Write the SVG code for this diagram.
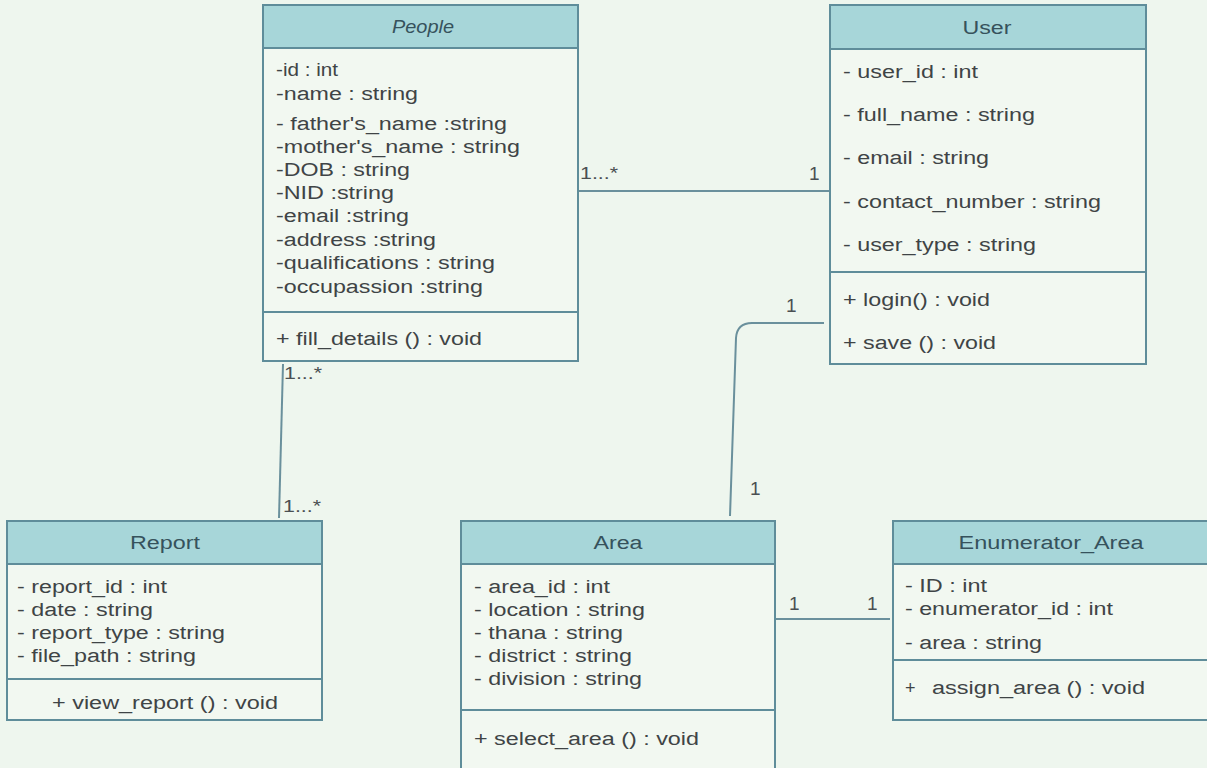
<svg xmlns="http://www.w3.org/2000/svg" width="1207" height="768" viewBox="0 0 1207 768">
<style>
.bg{fill:#eef6ee}
.box{fill:#f2f8f1;stroke:#5f8d9a;stroke-width:2}
.hdr{fill:#a7d6d9;stroke:#5f8d9a;stroke-width:2}
.div{stroke:#5f8d9a;stroke-width:2}
.t{font-family:"Liberation Sans",Arial,sans-serif;font-size:18px;fill:#3f4446}
.h{font-family:"Liberation Sans",Arial,sans-serif;font-size:18px;fill:#36525c;text-anchor:middle}
.m{font-family:"Liberation Sans",Arial,sans-serif;font-size:17px;fill:#4a4f52}
.n{font-family:"Liberation Sans",Arial,sans-serif;font-size:19px;fill:#4a4f52}
.c{fill:none;stroke:#6a909c;stroke-width:2}
</style>
<rect class="bg" x="0" y="0" width="1207" height="768"/>

<g id="connectors">
<path class="c" d="M578 191 L830 191"/>
<path class="c" d="M824 323 L752 323 Q737 323 736 338 L730 516"/>
<path class="c" d="M283 364 L279 518"/>
<path class="c" d="M776 619 L890 619"/>
<text class="m" x="580" y="179" textLength="38" lengthAdjust="spacingAndGlyphs">1...*</text>
<text class="n" x="809" y="180">1</text>
<text class="n" x="786" y="312">1</text>
<text class="n" x="750" y="495">1</text>
<text class="m" x="284" y="379" textLength="38" lengthAdjust="spacingAndGlyphs">1...*</text>
<text class="m" x="283" y="512" textLength="38" lengthAdjust="spacingAndGlyphs">1...*</text>
<text class="n" x="789" y="610">1</text>
<text class="n" x="867" y="610">1</text>
</g>

<g id="People">
<rect class="box" x="263" y="5" width="315" height="356"/>
<rect class="hdr" x="263" y="5" width="315" height="43"/>
<line class="div" x1="263" y1="312" x2="578" y2="312"/>
<text class="h" x="423" y="33" font-style="italic" textLength="62" lengthAdjust="spacingAndGlyphs">People</text>
<text class="t" x="276" y="76" textLength="62" lengthAdjust="spacingAndGlyphs">-id : int</text>
<text class="t" x="276" y="100" textLength="142" lengthAdjust="spacingAndGlyphs">-name : string</text>
<text class="t" x="276" y="130" textLength="231" lengthAdjust="spacingAndGlyphs">- father's_name :string</text>
<text class="t" x="276" y="153" textLength="244" lengthAdjust="spacingAndGlyphs">-mother's_name : string</text>
<text class="t" x="276" y="176" textLength="134" lengthAdjust="spacingAndGlyphs">-DOB : string</text>
<text class="t" x="276" y="199" textLength="118" lengthAdjust="spacingAndGlyphs">-NID :string</text>
<text class="t" x="276" y="222" textLength="133" lengthAdjust="spacingAndGlyphs">-email :string</text>
<text class="t" x="276" y="246" textLength="160" lengthAdjust="spacingAndGlyphs">-address :string</text>
<text class="t" x="276" y="269" textLength="219" lengthAdjust="spacingAndGlyphs">-qualifications : string</text>
<text class="t" x="276" y="293" textLength="207" lengthAdjust="spacingAndGlyphs">-occupassion :string</text>
<text class="t" x="276" y="345" textLength="206" lengthAdjust="spacingAndGlyphs">+ fill_details () : void</text>
</g>

<g id="User">
<rect class="box" x="830" y="5" width="316" height="359"/>
<rect class="hdr" x="830" y="5" width="316" height="44"/>
<line class="div" x1="830" y1="272" x2="1146" y2="272"/>
<text class="h" x="987" y="34" textLength="49" lengthAdjust="spacingAndGlyphs">User</text>
<text class="t" x="843" y="78" textLength="135" lengthAdjust="spacingAndGlyphs">- user_id : int</text>
<text class="t" x="843" y="121" textLength="192" lengthAdjust="spacingAndGlyphs">- full_name : string</text>
<text class="t" x="843" y="164" textLength="146" lengthAdjust="spacingAndGlyphs">- email : string</text>
<text class="t" x="843" y="208" textLength="258" lengthAdjust="spacingAndGlyphs">- contact_number : string</text>
<text class="t" x="843" y="251" textLength="193" lengthAdjust="spacingAndGlyphs">- user_type : string</text>
<text class="t" x="843" y="306" textLength="147" lengthAdjust="spacingAndGlyphs">+ login() : void</text>
<text class="t" x="843" y="349" textLength="153" lengthAdjust="spacingAndGlyphs">+ save () : void</text>
</g>

<g id="Report">
<rect class="box" x="7" y="521" width="315" height="199"/>
<rect class="hdr" x="7" y="521" width="315" height="43"/>
<line class="div" x1="7" y1="679" x2="322" y2="679"/>
<text class="h" x="165" y="549" textLength="70" lengthAdjust="spacingAndGlyphs">Report</text>
<text class="t" x="17" y="593" textLength="150" lengthAdjust="spacingAndGlyphs">- report_id : int</text>
<text class="t" x="17" y="616" textLength="136" lengthAdjust="spacingAndGlyphs">- date : string</text>
<text class="t" x="17" y="639" textLength="208" lengthAdjust="spacingAndGlyphs">- report_type : string</text>
<text class="t" x="17" y="662" textLength="179" lengthAdjust="spacingAndGlyphs">- file_path : string</text>
<text class="h" x="165" y="709" style="fill:#3f4446" textLength="226" lengthAdjust="spacingAndGlyphs">+ view_report () : void</text>
</g>

<g id="Area">
<rect class="box" x="461" y="521" width="314" height="270"/>
<rect class="hdr" x="461" y="521" width="314" height="43"/>
<line class="div" x1="461" y1="710" x2="775" y2="710"/>
<text class="h" x="618" y="549" textLength="49" lengthAdjust="spacingAndGlyphs">Area</text>
<text class="t" x="474" y="593" textLength="136" lengthAdjust="spacingAndGlyphs">- area_id : int</text>
<text class="t" x="474" y="616" textLength="171" lengthAdjust="spacingAndGlyphs">- location : string</text>
<text class="t" x="474" y="639" textLength="149" lengthAdjust="spacingAndGlyphs">- thana : string</text>
<text class="t" x="474" y="662" textLength="158" lengthAdjust="spacingAndGlyphs">- district : string</text>
<text class="t" x="474" y="685" textLength="168" lengthAdjust="spacingAndGlyphs">- division : string</text>
<text class="t" x="474" y="745" textLength="225" lengthAdjust="spacingAndGlyphs">+ select_area () : void</text>
</g>

<g id="Enumerator_Area">
<rect class="box" x="893" y="521" width="330" height="199"/>
<rect class="hdr" x="893" y="521" width="330" height="43"/>
<line class="div" x1="893" y1="660" x2="1223" y2="660"/>
<text class="h" x="1051" y="549" textLength="185" lengthAdjust="spacingAndGlyphs">Enumerator_Area</text>
<text class="t" x="905" y="592" textLength="82" lengthAdjust="spacingAndGlyphs">- ID : int</text>
<text class="t" x="905" y="615" textLength="208" lengthAdjust="spacingAndGlyphs">- enumerator_id : int</text>
<text class="t" x="905" y="649" textLength="137" lengthAdjust="spacingAndGlyphs">- area : string</text>
<text class="t" x="905" y="694">+</text>
<text class="t" x="932" y="694" textLength="213" lengthAdjust="spacingAndGlyphs">assign_area () : void</text>
</g>
</svg>
